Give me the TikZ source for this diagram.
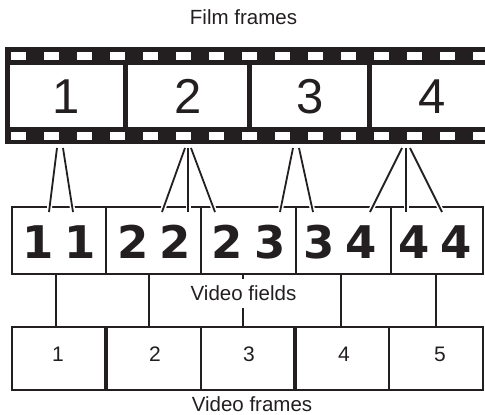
\documentclass[tikz,border=0pt]{standalone}
\usepackage{fontspec}
\usetikzlibrary{calc}
\setmainfont{Liberation Sans}
\newfontfamily\fieldfont{DejaVu Sans}
\definecolor{ink}{HTML}{231F20}
\begin{document}
\begin{tikzpicture}[x=1pt,y=-1pt,
  lbl/.style={anchor=base,inner sep=0pt,font=\fontsize{20.5}{24}\selectfont,text=ink},
  filmnum/.style={anchor=base,inner sep=0pt,font=\fontsize{49}{56}\selectfont,text=ink},
  fieldnum/.style={anchor=base,inner sep=0pt,font=\fieldfont\bfseries\fontsize{45}{52}\selectfont,text=ink},
  vfnum/.style={anchor=base,inner sep=0pt,font=\fontsize{21}{25}\selectfont,text=ink},
  filmframe/.style={anchor=north west,fill=white,draw=none,inner sep=0pt,outer sep=0pt,minimum height=62pt},
  fieldbox/.style={anchor=north west,draw=ink,line width=2.2pt,inner sep=0pt,outer sep=0pt,minimum height=67pt},
  vframe/.style={anchor=north west,draw=ink,line width=1.2pt,inner sep=0pt,outer sep=0pt,minimum height=63pt},
  halo/.style={white,line width=5pt},
  conn/.style={ink,line width=1.8pt},
  vconn/.style={ink,line width=1.2pt}]
\useasboundingbox[fill=white] (0,0) rectangle (485,415);

% film strip
\begin{scope}
\clip (5,47) rectangle (485,144);
\fill[ink] (5,47) rectangle (485,144);
\foreach \k in {0,...,14} {
  \fill[white] (10.7+33*\k,52) rectangle ++(14.8,8);
  \fill[white] (10.7+33*\k,132) rectangle ++(14.8,8);
}
\node[filmframe,minimum width=113pt] (ff1) at (10,65) {};
\node[filmframe,minimum width=119pt] (ff2) at (128,65) {};
\node[filmframe,minimum width=115pt] (ff3) at (252,65) {};
\node[filmframe,minimum width=120pt] (ff4) at (372,65) {};
\end{scope}
\node[filmnum] (fn1) at (66,113) {1};
\node[filmnum] (fn2) at (188,113) {2};
\node[filmnum] (fn3) at (310.5,113) {3};
\node[filmnum] (fn4) at (432.5,113) {4};

\node[lbl] (lfilm) at (243.5,24) {Film frames};

% video fields
\node[fieldbox,minimum width=94pt] (fb1) at (12,207) {};
\node[fieldbox,minimum width=95pt] (fb2) at (106,207) {};
\node[fieldbox,minimum width=95pt] (fb3) at (201,207) {};
\node[fieldbox,minimum width=95pt] (fb4) at (296,207) {};
\node[fieldbox,minimum width=92pt] (fb5) at (391,207) {};

\node[fieldnum] (d1a) at (38,258.5) {1};
\node[fieldnum] (d1b) at (80.5,258.5) {1};
\node[fieldnum] (d2a) at (133,258.5) {2};
\node[fieldnum] (d2b) at (175,258.5) {2};
\node[fieldnum] (d3a) at (227.5,258.5) {2};
\node[fieldnum] (d3b) at (270.5,258.5) {3};
\node[fieldnum] (d4a) at (319,258.5) {3};
\node[fieldnum] (d4b) at (361.5,258.5) {4};
\node[fieldnum] (d5a) at (414,258.5) {4};
\node[fieldnum] (d5b) at (456.5,258.5) {4};

% film -> field connectors
\coordinate (t1a) at (57,148);  \coordinate (b1a) at (49,212);
\coordinate (t1b) at (63,148);  \coordinate (b1b) at (73,212);
\coordinate (t2a) at (185,148); \coordinate (b2a) at (162,212);
\coordinate (t2b) at (188,148); \coordinate (b2b) at (188,212);
\coordinate (t2c) at (191,148); \coordinate (b2c) at (215,212);
\coordinate (t3a) at (293,148); \coordinate (b3a) at (280,212);
\coordinate (t3b) at (299,148); \coordinate (b3b) at (313,212);
\coordinate (t4a) at (402,148); \coordinate (b4a) at (370,212);
\coordinate (t4b) at (406,148); \coordinate (b4b) at (406,212);
\coordinate (t4c) at (410,148); \coordinate (b4c) at (442,212);
\foreach \p in {1a,1b,2a,2b,2c,3a,3b,4a,4b,4c}
  \draw[halo] ($(t\p)!0.75!(b\p)$) -- (b\p);
\foreach \p in {1a,1b,2a,2b,2c,3a,3b,4a,4b,4c}
  \draw[conn] (t\p) -- (b\p);

% video frames
\node[vframe,minimum width=93pt] (vf1) at (12,327) {};
\node[vframe,minimum width=94pt] (vf2) at (107,327) {};
\node[vframe,minimum width=93pt] (vf3) at (201,327) {};
\node[vframe,minimum width=93pt] (vf4) at (296,327) {};
\node[vframe,minimum width=94pt] (vf5) at (389,327) {};

\node[vfnum] (n1) at (58,361.5) {1};
\node[vfnum] (n2) at (155,361.5) {2};
\node[vfnum] (n3) at (249,361.5) {3};
\node[vfnum] (n4) at (344,361.5) {4};
\node[vfnum] (n5) at (440,361.5) {5};

% field -> frame connectors
\coordinate (u1) at (56,275);  \coordinate (w1) at (56,327);
\coordinate (u2) at (149,275); \coordinate (w2) at (149,327);
\coordinate (u3) at (243,275); \coordinate (w3) at (243,327);
\coordinate (u4) at (341,275); \coordinate (w4) at (341,327);
\coordinate (u5) at (436,275); \coordinate (w5) at (436,327);
\foreach \i in {1,...,5} \draw[vconn] (u\i) -- (w\i);

\node[lbl,fill=white,text height=21pt,text depth=8pt,inner xsep=2pt] (lfields) at (243.5,300) {Video fields};
\node[lbl] (lframes) at (252,411.5) {Video frames};
\end{tikzpicture}
\end{document}
